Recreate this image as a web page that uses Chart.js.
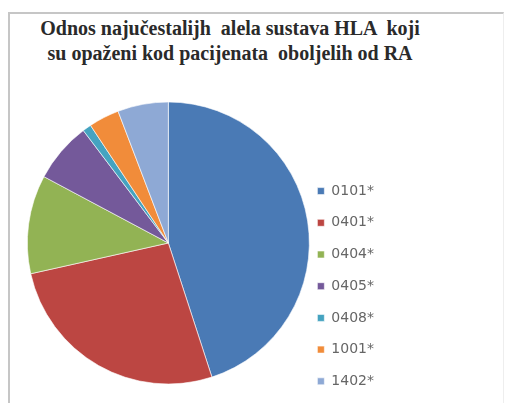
<!DOCTYPE html>
<html>
<head>
<meta charset="utf-8">
<script src="https://cdn.jsdelivr.net/npm/chart.js@4"></script>
<style>
  html, body { margin: 0; padding: 0; background: #fff; overflow: hidden; }
  body { width: 507px; height: 403px; position: relative; }
  #okvir {
    position: absolute; left: 8px; top: 12px; width: 493px; height: 400px;
    border-top: 2px solid #c6c6c6; border-left: 2px solid #c6c6c6; border-right: 1px solid #eeeeee;
  }
  #naslov {
    position: absolute; left: 0; top: 16px; width: 460px;
    text-align: center; font-family: "Times New Roman", "Liberation Serif", "DejaVu Serif", serif;
    font-weight: bold; font-size: 20px; line-height: 25px;
    color: #2a2a2a; white-space: pre;
  }
  #graficaAlela { position: absolute; left: 20px; top: 80px; }
</style>
</head>
<body>
<div id="okvir"></div>
<div id="naslov">Odnos najučestalijh  alela sustava HLA  koji
su opaženi kod pacijenata  oboljelih od RA</div>
<canvas id="graficaAlela" width="364" height="326"></canvas>
<script>
// PODACI
const aleli = ["0101*", "0401*", "0404*", "0405*", "0408*", "1001*", "1402*"];
const udjeli = [45.0, 26.5, 11.3, 6.9, 1.0, 3.5, 5.8];
const boje = [
    "#4a7ab5", // 0101
    "#bc4642", // 0401
    "#92b354", // 0404
    "#74599a", // 0405
    "#45a3c0", // 0408
    "#f18c3a", // 1001
    "#8ea9d5"  // 1402
];

new Chart(document.getElementById("graficaAlela"), {
    type: "pie",
    data: {
        labels: aleli,
        datasets: [{
            data: udjeli,
            backgroundColor: boje,
            borderColor: "rgba(255,255,255,0.6)",
            borderWidth: 1
        }]
    },
    options: {
        responsive: false,
        animation: false,
        radius: 141,
        layout: { padding: { left: 17 } },
        plugins: {
            legend: {
                position: "right",
                align: "end",
                labels: {
                    boxWidth: 7,
                    boxHeight: 7,
                    padding: 17.7,
                    color: "#666",
                    font: { family: "DejaVu Sans", size: 14 }
                }
            },
            tooltip: { enabled: false }
        }
    }
});
</script>
</body>
</html>
